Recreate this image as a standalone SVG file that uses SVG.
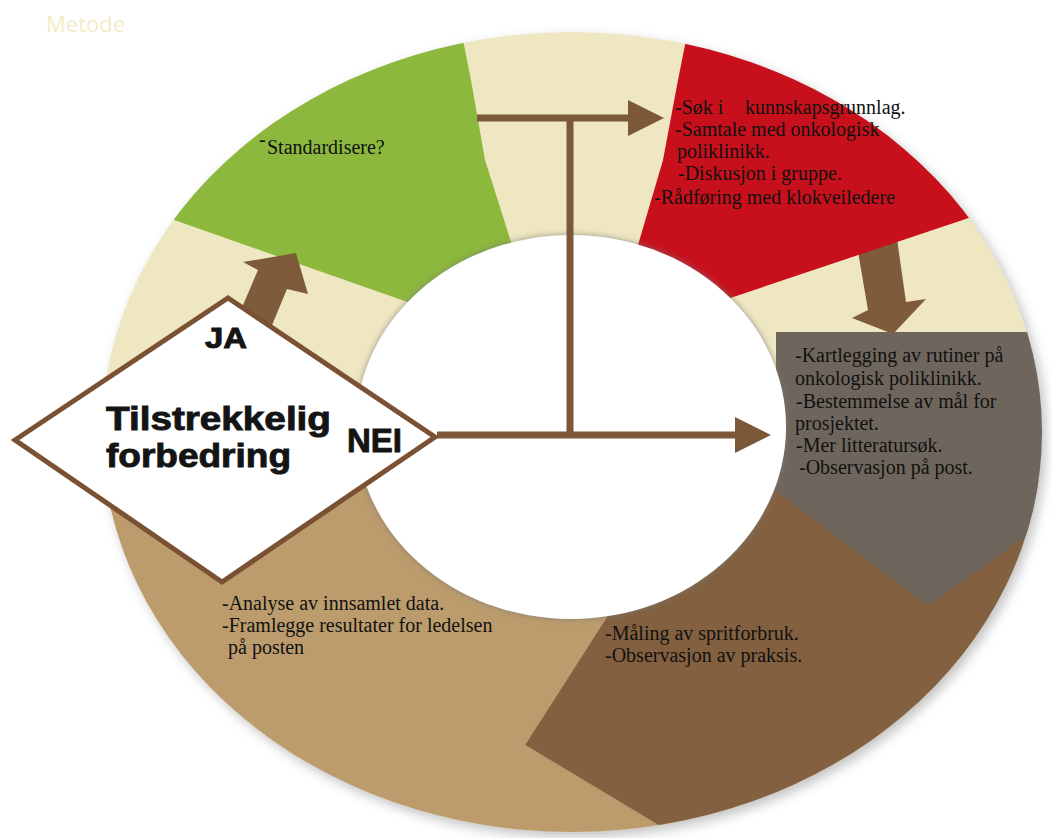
<svg xmlns="http://www.w3.org/2000/svg" width="1052" height="838" viewBox="0 0 1052 838">
  <style>
    .body { font-family: "Liberation Serif", "Times New Roman", serif; font-size: 20px; fill: #111; }
    .bold { font-family: "Liberation Sans", Arial, sans-serif; font-weight: bold; fill: #141414; stroke: #141414; stroke-width: 0.9; }
    .conn { stroke: #7B5838; stroke-width: 7; fill: none; }
    .blk { fill: #7E5B3B; }
  </style>
  <defs>
    <clipPath id="ring">
      <ellipse cx="572" cy="432" rx="470" ry="400"/>
    </clipPath>
    <filter id="blur8" x="-20%" y="-20%" width="140%" height="140%">
      <feGaussianBlur stdDeviation="6"/>
    </filter>
    <filter id="holeShadow" x="-20%" y="-20%" width="140%" height="140%">
      <feDropShadow dx="0" dy="0" stdDeviation="3" flood-color="#777" flood-opacity="0.8"/>
    </filter>
    <marker id="head" markerUnits="userSpaceOnUse" markerWidth="40" markerHeight="40" refX="5" refY="18" orient="auto">
      <path d="M0,0 L36,18 L0,36 z" fill="#7B5838"/>
    </marker>
  </defs>

  <rect width="1052" height="838" fill="#ffffff"/>
  <text x="46" y="32" font-family="'Open Sans', 'Liberation Sans', sans-serif" font-size="22" fill="#F4ECC6">Metode</text>

  <!-- ring shadow -->
  <ellipse cx="576" cy="437" rx="470" ry="400" fill="#9a9a9a" opacity="0.6" filter="url(#blur8)"/>

  <!-- ring segments -->
  <g id="ring-segments" clip-path="url(#ring)">
    <ellipse cx="572" cy="432" rx="470" ry="400" fill="#EFE7C2"/>
    <polygon id="seg-green" points="530,345 40,173 40,0 456,0 463,40 471,80 485,160 512,245" fill="#8CB83D"/>
    <polygon id="seg-tan" points="0,472 40,472 430,440 669,520 525,745 800,910 0,910" fill="#BC9C6C"/>
    <polygon id="seg-brown" points="669,520 525,745 800,910 1100,910 1100,480 700,480" fill="#83603F"/>
    <polygon id="seg-gray" points="776,332 1100,332 1100,483 928,606 770,486 776,420" fill="#6E665C"/>
    <polygon id="arrow-red-gray" class="blk" points="856,240 896,232 906,302 926,299 893,334 852,318 868,310"/>
    <polygon id="seg-red" points="693,0 1052,0 1052,190 620,335 638,245 663,160 678,80 686,40" fill="#C8101C"/>
  </g>

  <!-- hole -->
  <ellipse id="hole" cx="571" cy="427" rx="215" ry="192" fill="#ffffff" filter="url(#holeShadow)"/>

  <!-- JA arrow -->
  <polygon id="arrow-ja" class="blk" points="243,262 296,253 308,294 287,289 270,330 240,312 258,270"/>

  <!-- connectors -->
  <g id="connectors">
    <line class="conn" x1="570" y1="118" x2="570" y2="438"/>
    <line class="conn" x1="477" y1="118" x2="633" y2="118" marker-end="url(#head)"/>
    <line class="conn" x1="437" y1="435" x2="740" y2="435" marker-end="url(#head)"/>
  </g>

  <!-- decision diamond -->
  <g id="node-decision">
    <polygon points="15,440 228,298 435,437 222,582" fill="#ffffff" stroke="#7A5233" stroke-width="5" stroke-linejoin="miter"/>
    <text class="bold" x="106" y="430" font-size="33" textLength="225" lengthAdjust="spacingAndGlyphs">Tilstrekkelig</text>
    <text class="bold" x="106" y="467" font-size="33" textLength="185" lengthAdjust="spacingAndGlyphs">forbedring</text>
    <text class="bold" x="205" y="348" font-size="29" textLength="42" lengthAdjust="spacingAndGlyphs">JA</text>
    <text class="bold" x="347" y="452" font-size="34" textLength="55" lengthAdjust="spacingAndGlyphs">NEI</text>
  </g>

  <!-- segment texts -->
  <g id="node-green">
    <text class="body" x="259" y="146" font-size="8">-</text>
    <text class="body" x="267" y="154">Standardisere?</text>
  </g>
  <g id="node-red">
    <text class="body" x="675" y="114">-Søk i <tspan x="745">kunnskapsgrunnlag.</tspan></text>
    <text class="body" x="675" y="136">-Samtale med onkologisk</text>
    <text class="body" x="677" y="158">poliklinikk.</text>
    <text class="body" x="678" y="180">-Diskusjon i gruppe.</text>
    <text class="body" x="654" y="204">-Rådføring med klokveiledere</text>
  </g>
  <g id="node-gray">
    <text class="body" x="795" y="362">-Kartlegging av rutiner på</text>
    <text class="body" x="795" y="385">onkologisk poliklinikk.</text>
    <text class="body" x="796" y="408">-Bestemmelse av mål for</text>
    <text class="body" x="795" y="430">prosjektet.</text>
    <text class="body" x="796" y="452">-Mer litteratursøk.</text>
    <text class="body" x="799" y="474">-Observasjon på post.</text>
  </g>
  <g id="node-brown">
    <text class="body" x="605" y="640">-Måling av spritforbruk.</text>
    <text class="body" x="605" y="662">-Observasjon av praksis.</text>
  </g>
  <g id="node-tan">
    <text class="body" x="222" y="610">-Analyse av innsamlet data.</text>
    <text class="body" x="222" y="632">-Framlegge resultater for ledelsen</text>
    <text class="body" x="228" y="654">på posten</text>
  </g>
</svg>
